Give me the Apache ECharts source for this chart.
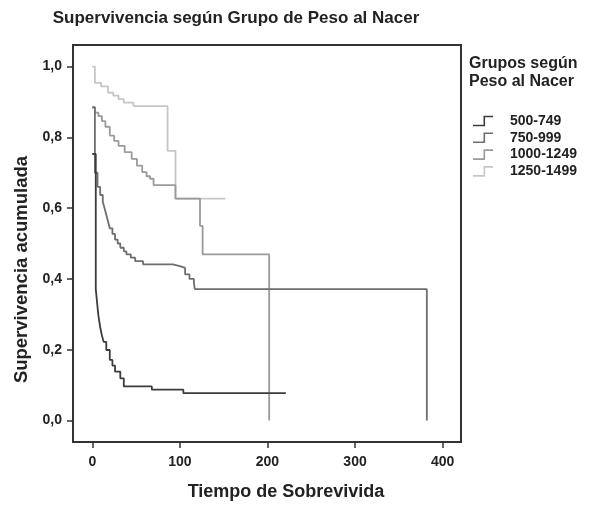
<!DOCTYPE html>
<html>
<head>
<meta charset="utf-8">
<script src="https://cdn.jsdelivr.net/npm/echarts@6/dist/echarts.min.js"></script>
<style>
  html, body { margin: 0; padding: 0; background: #fff; }
  #km-chart { width: 595px; height: 506px; }
</style>
</head>
<body>
<div id="km-chart"></div>
<script>
// ==============================================================
// Kaplan-Meier: supervivencia segun grupo de peso al nacer
// ==============================================================
var groupNames = ['500-749', '750-999', '1000-1249', '1250-1499'];
var groupColors = ['#3c3c3c', '#6e6e6e', '#9a9a9a', '#c6c6c6'];

// [tiempo, supervivencia acumulada]
var g500 = [[0, 0.753], [4, 0.371], [6, 0.32], [7, 0.296], [9, 0.264], [11, 0.24],
    [13, 0.222], [16, 0.199], [20, 0.171], [23, 0.155], [26, 0.138], [32, 0.119],
    [36, 0.096], [68, 0.087], [104, 0.077], [221, 0.077]];
var g750 = [[0, 0.885], [3, 0.70], [6, 0.66], [9, 0.637], [12, 0.618], [14, 0.60],
    [16, 0.581], [18, 0.562], [20, 0.543], [23, 0.527], [26, 0.511], [29, 0.50],
    [32, 0.488], [36, 0.478], [39, 0.469], [44, 0.46], [49, 0.45], [58, 0.441],
    [92, 0.436], [100, 0.431], [106, 0.413], [111, 0.40], [116, 0.39], [117, 0.371],
    [382, 0.0]];
var g1000 = [[0, 0.884], [3, 0.87], [7, 0.86], [11, 0.846], [15, 0.83], [20, 0.805],
    [25, 0.79], [30, 0.776], [37, 0.758], [45, 0.739], [51, 0.72], [57, 0.702],
    [62, 0.69], [66, 0.683], [70, 0.665], [95, 0.627], [123, 0.55], [126, 0.469],
    [202, 0.0]];
var g1250 = [[0, 1.0], [3, 0.954], [10, 0.944], [18, 0.926], [24, 0.918], [30, 0.908],
    [36, 0.898], [47, 0.888], [86, 0.762], [95, 0.627], [152, 0.627]];

var xTicks = [0, 100, 200, 300, 400];
var yTicks = [0, 0.2, 0.4, 0.6, 0.8, 1.0];

var groupData = [g500, g750, g1000, g1250];

var myChart = echarts.init(document.getElementById('km-chart'));

var seriesList = groupData.map(function (d, i) {
    return {
        name: groupNames[i],
        type: 'line',
        step: 'end',
        data: d,
        showSymbol: false,
        symbol: 'none',
        z: 10 - i,
        lineStyle: { color: groupColors[i], width: 1.8 },
        itemStyle: { color: groupColors[i] }
    };
});

var textFont = 'Liberation Sans';

option = {
    animation: false,
    backgroundColor: '#fff',
    color: groupColors,
    title: [
        {
            text: 'Supervivencia según Grupo de Peso al Nacer',
            left: 231,
            top: 5,
            textAlign: 'center',
            textStyle: { fontFamily: textFont, fontSize: 17, fontWeight: 'bold', color: '#222' }
        },
        {
            text: 'Grupos según\nPeso al Nacer',
            left: 469,
            top: 55,
            padding: 0,
            textStyle: { fontFamily: textFont, fontSize: 16, fontWeight: 'bold', color: '#222', lineHeight: 18 }
        }
    ],
    legend: {
        orient: 'vertical',
        left: 468,
        top: 109,
        itemWidth: 20,
        itemHeight: 12,
        itemGap: 2.8,
        // step-shaped outline, filled with the series colour
        icon: 'path://M0,10L10.5,10L10.5,1L20,1L20,2.6L12.1,2.6L12.1,11.6L0,11.6Z',
        textStyle: { fontFamily: textFont, fontSize: 14, fontWeight: 'bold', color: '#222', padding: [0, 0, 0, 12] },
        data: groupNames
    },
    grid: {
        show: true,
        left: 73,
        top: 45,
        right: 134,
        bottom: 60,
        borderColor: '#333',
        borderWidth: 2,
        backgroundColor: '#fff'
    },
    xAxis: {
        type: 'value',
        min: -22,
        max: 421,
        name: 'Tiempo de Sobrevivida',
        nameLocation: 'middle',
        nameGap: 41,
        nameTextStyle: { fontFamily: textFont, fontSize: 18, fontWeight: 'bold', color: '#222', padding: [0, 0, 0, 38] },
        axisLine: { show: true, onZero: false, lineStyle: { color: '#333', width: 2 } },
        axisTick: { show: true, customValues: xTicks, length: 6, lineStyle: { color: '#333', width: 1.5 } },
        axisLabel: {
            customValues: xTicks,
            margin: 13,
            fontFamily: textFont, fontSize: 14, fontWeight: 'bold', color: '#222'
        },
        splitLine: { show: false }
    },
    yAxis: {
        type: 'value',
        min: -0.061,
        max: 1.061,
        name: 'Supervivencia acumulada',
        nameLocation: 'middle',
        nameGap: 40,
        nameTextStyle: { fontFamily: textFont, fontSize: 18.5, fontWeight: 'bold', color: '#222', padding: [0, 52, 0, 0] },
        axisLine: { show: true, onZero: false, lineStyle: { color: '#333', width: 2 } },
        axisTick: { show: true, customValues: yTicks, length: 6, lineStyle: { color: '#333', width: 1.5 } },
        axisLabel: {
            customValues: yTicks,
            margin: 11,
            formatter: function (v) { return v.toFixed(1).replace('.', ','); },
            fontFamily: textFont, fontSize: 14, fontWeight: 'bold', color: '#222'
        },
        splitLine: { show: false }
    },
    series: seriesList
};

myChart.setOption(option, true);
</script>
</body>
</html>
